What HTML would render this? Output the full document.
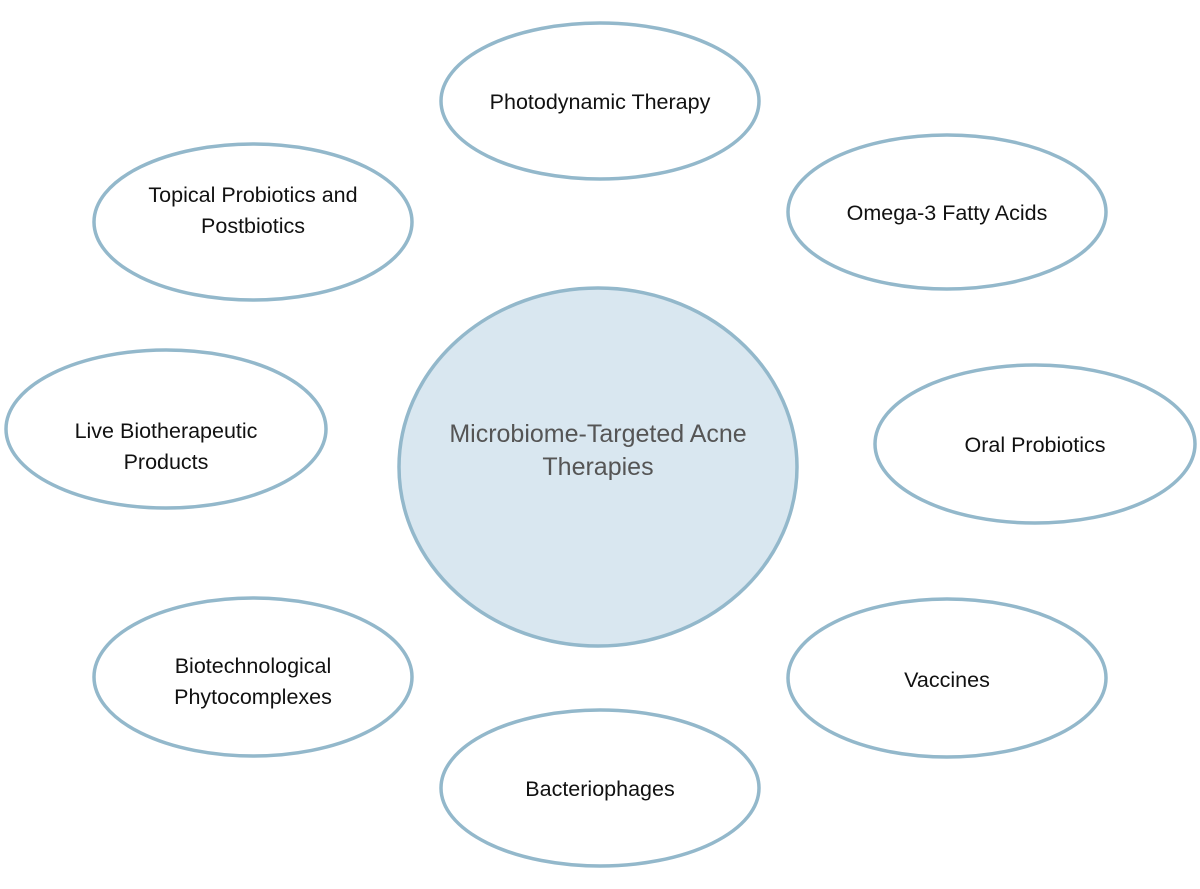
<!DOCTYPE html>
<html><head><meta charset="utf-8"><style>
html,body{margin:0;padding:0;background:#fff;width:1200px;height:889px;overflow:hidden}
svg{display:block}
text{font-family:"Liberation Sans",Arial,sans-serif;text-anchor:middle}
</style></head><body>
<svg width="1200" height="889" viewBox="0 0 1200 889">
<g fill="#fff" stroke="#93b8cb" stroke-width="3.5">
<ellipse cx="600" cy="101" rx="159" ry="78"/>
<ellipse cx="253" cy="222" rx="159" ry="78"/>
<ellipse cx="947" cy="212" rx="159" ry="77"/>
<ellipse cx="166" cy="429" rx="160" ry="79"/>
<ellipse cx="1035" cy="444" rx="160" ry="79"/>
<ellipse cx="253" cy="677" rx="159" ry="79"/>
<ellipse cx="947" cy="678" rx="159" ry="79"/>
<ellipse cx="600" cy="788" rx="159" ry="78"/>
<ellipse cx="598" cy="467" rx="199" ry="179" fill="#d9e7f0"/>
</g>
<g font-size="21.5" fill="#111">
<text x="600" y="109">Photodynamic Therapy</text>
<text x="253" y="202">Topical Probiotics and</text>
<text x="253" y="233">Postbiotics</text>
<text x="947" y="220">Omega-3 Fatty Acids</text>
<text x="166" y="438">Live Biotherapeutic</text>
<text x="166" y="469">Products</text>
<text x="1035" y="452">Oral Probiotics</text>
<text x="253" y="673">Biotechnological</text>
<text x="253" y="704">Phytocomplexes</text>
<text x="947" y="687">Vaccines</text>
<text x="600" y="796">Bacteriophages</text>
</g>
<g font-size="25" fill="#555">
<text x="598" y="442">Microbiome-Targeted Acne</text>
<text x="598" y="475">Therapies</text>
</g>
</svg>
</body></html>
